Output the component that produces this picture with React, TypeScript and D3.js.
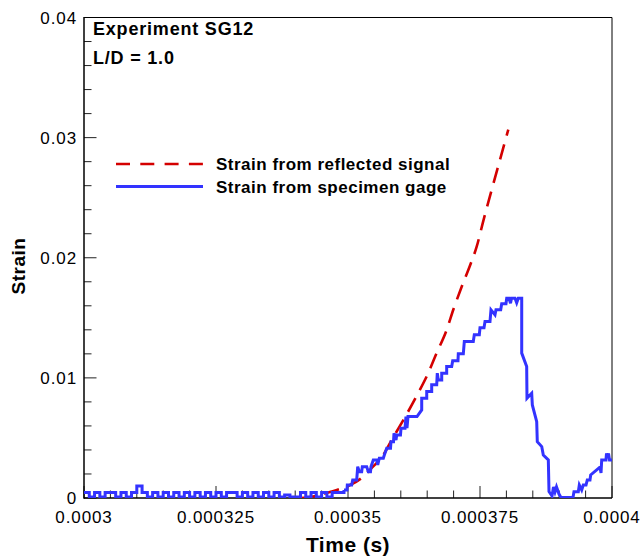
import React from "react";
import * as d3 from "d3";

// ---------- data ----------
const xTickValues = [0.0003, 0.000325, 0.00035, 0.000375, 0.0004];
const xTickLabels = ["0.0003", "0.000325", "0.00035", "0.000375", "0.0004"];
const yTickValues = [0, 0.01, 0.02, 0.03, 0.04];
const yTickLabels = ["0", "0.01", "0.02", "0.03", "0.04"];

const seriesNames = ["Strain from reflected signal", "Strain from specimen gage"];

// reflected-signal strain: [time (µs), strain]
const reflectedPoints: [number, number][] = [
  [340.91, 0], [343.37, 0.000125], [346.59, 0.0005], [348.48, 0.00075],
  [350.38, 0.00108], [352.59, 0.00167], [354.49, 0.0025], [356.69, 0.00358],
  [358.28, 0.00483], [360.17, 0.00625], [363.31, 0.00875], [365.21, 0.01042],
  [366.8, 0.01208], [368.69, 0.014], [369.94, 0.01567], [371.53, 0.01758],
  [373.11, 0.01935], [374.37, 0.02092], [375.63, 0.02307], [377.22, 0.02567],
  [378.79, 0.02817], [380.36, 0.03067],
];

// specimen gage, pre-pulse noise: sampled every 1 µs from 300 µs (strain ×1e-4)
const gageBaselineStartUs = 300;
const gageBaselineLevels = [
  4.5, 0.8, 4.5, 0.8, 4.5, 4.5, 0.8, 4.5, 0.8, 4.5,
  10, 4.5, 0.8, 4.5, 0.8, 4.5, 0.8, 4.5, 0.8, 4.5,
  0.8, 4.5, 0.8, 4.5, 0.8, 4.5, 0.8, 4.5, 4.5, 0.8,
  4.5, 0.8, 4.5, 0.8, 4.5, 0.8, 4.5, 0.8, 2.5, 0.8,
  0.8, 4.5, 0.8, 4.5, 0.8, 4.5, 0.8, 4.5, 4.5,
];

// specimen gage, pulse: [time (µs), strain]
const gagePoints: [number, number][] = [
  [349.24, 0.00067], [349.81, 0.00067], [349.87, 0.00108], [350.7, 0.00108],
  [350.89, 0.0015], [351.65, 0.0015], [351.84, 0.00261], [352.14, 0.00219],
  [352.59, 0.00219], [352.71, 0.00261], [353.54, 0.00261], [353.84, 0.00219],
  [354.26, 0.00219], [354.36, 0.00261], [354.79, 0.00317], [355.49, 0.00317],
  [355.63, 0.00275], [355.93, 0.00331], [356.69, 0.00331], [356.88, 0.00358],
  [357.33, 0.00414], [358.05, 0.00414], [358.14, 0.00469], [358.62, 0.00469],
  [358.71, 0.00539], [359.09, 0.00483], [359.22, 0.00525], [359.94, 0.00525],
  [360.04, 0.00581], [360.8, 0.00581], [360.98, 0.00678], [361.17, 0.00581],
  [361.36, 0.00678], [363.07, 0.00678], [363.96, 0.00733], [363.96, 0.00831],
  [364.91, 0.00831], [364.91, 0.00886], [365.85, 0.00886], [365.85, 0.00942],
  [366.8, 0.00942], [366.91, 0.01039], [367.1, 0.00983], [367.75, 0.00983],
  [367.75, 0.01039], [368.69, 0.01039], [368.69, 0.01094], [369.64, 0.01094],
  [369.83, 0.01142], [370.83, 0.01142], [370.89, 0.012], [371.84, 0.012],
  [372.03, 0.01303], [373.73, 0.01303], [373.92, 0.01358], [374.87, 0.01358],
  [375.0, 0.01417], [375.76, 0.01417], [375.95, 0.01469], [376.89, 0.01469],
  [377.08, 0.01567], [377.84, 0.01525], [378.03, 0.01567], [378.92, 0.01567],
  [379.11, 0.01617], [379.92, 0.01617], [380.06, 0.01663], [380.49, 0.01663],
  [380.78, 0.01621], [380.97, 0.01663], [381.63, 0.01663], [381.95, 0.01625],
  [382.25, 0.01663], [382.9, 0.01663], [382.9, 0.01206], [383.84, 0.01094],
  [383.9, 0.00831], [384.47, 0.00858], [384.79, 0.00872], [384.91, 0.00775],
  [385.74, 0.00636], [385.85, 0.00469], [386.69, 0.00428], [386.99, 0.00358],
  [387.94, 0.00317], [388.07, 0.00053], [388.64, 0.00017], [388.92, 0.00092],
  [389.2, 0.0005], [389.49, 0.00092], [389.96, 0.00033], [390.34, 0.00004],
  [392.61, 0.00004], [392.8, 0.00053], [393.62, 0.00053], [393.81, 0.00108],
  [394.26, 0.00067], [394.56, 0.00108], [395.08, 0.00108], [395.32, 0.0015],
  [395.83, 0.0015], [395.96, 0.00192], [397.73, 0.00258], [397.92, 0.00208],
  [398.05, 0.00317], [398.86, 0.00317], [398.96, 0.00371], [399.15, 0.00333],
  [399.34, 0.00371], [399.53, 0.00317], [400.0, 0.00317],
];

const annotations = ["Experiment SG12", "L/D = 1.0"];

// ---------- layout ----------
const W = 643;
const H = 558;
const left = 84;
const right = 612;
const top = 17.5;
const bottom = 498;

const RED = "#d40000";
const BLUE = "#3333ff";
const FONT = "'Liberation Sans', Arial, Helvetica, sans-serif";

export default function App() {
  const x = d3.scaleLinear().domain([0.0003, 0.0004]).range([left, right]);
  const y = d3.scaleLinear().domain([0, 0.04]).range([bottom, top]);

  const xMinor = d3.range(0, 21).map((i) => 0.0003 + i * 0.000005);
  const yMinor = d3.range(0, 21).map((i) => i * 0.002);

  const lineLin = d3
    .line<[number, number]>()
    .x((d) => x(d[0] * 1e-6))
    .y((d) => y(d[1]));

  const lineSmooth = d3
    .line<[number, number]>()
    .x((d) => x(d[0] * 1e-6))
    .y((d) => y(d[1]))
    .curve(d3.curveMonotoneX);

  const baselineData: [number, number][] = gageBaselineLevels.map((v, i) => [
    gageBaselineStartUs + i,
    v * 1e-4,
  ]);
  baselineData.push([gagePoints[0][0], gagePoints[0][1]]);
  const lineStep = d3
    .line<[number, number]>()
    .x((d) => x(d[0] * 1e-6))
    .y((d) => y(d[1]))
    .curve(d3.curveStepAfter);

  const dash = "15.5 9";

  return (
    <svg
      width={W}
      height={H}
      style={{ position: "absolute", left: 0, top: 0, background: "#fff" }}
      fontFamily={FONT}
    >
      <defs>
        <clipPath id="plotclip">
          <rect x={left} y={top - 2} width={right - left} height={bottom - top + 2} />
        </clipPath>
      </defs>
      <rect x={0} y={0} width={W} height={H} fill="#fff" />

      {/* minor / major ticks */}
      {yMinor.map((v, i) => {
        const major = i % 5 === 0;
        return (
          <line
            key={"ym" + i}
            x1={left}
            x2={left + (major ? 12.5 : 7.5)}
            y1={y(v)}
            y2={y(v)}
            stroke="#222"
            strokeWidth={1}
          />
        );
      })}
      {xMinor.map((v, i) => {
        const major = i % 5 === 0;
        return (
          <line
            key={"xm" + i}
            x1={x(v)}
            x2={x(v)}
            y1={bottom}
            y2={bottom - (major ? 12 : 7.5)}
            stroke="#222"
            strokeWidth={1}
          />
        );
      })}

      {/* frame */}
      <line x1={left} x2={right} y1={top} y2={top} stroke="#000" strokeWidth={1} />
      <line x1={right} x2={right} y1={top} y2={bottom} stroke="#000" strokeWidth={1} />
      <line x1={left} x2={left} y1={top - 0.5} y2={bottom + 0.75} stroke="#000" strokeWidth={1.5} />
      <line x1={left} x2={right} y1={bottom} y2={bottom} stroke="#000" strokeWidth={1.5} />

      {/* tick labels */}
      {yTickValues.map((v, i) => (
        <text
          key={"yl" + i}
          x={77}
          y={y(v) + 6}
          textAnchor="end"
          fontSize={17}
          letterSpacing={0.9}
          fill="#000"
        >
          {yTickLabels[i]}
        </text>
      ))}
      {xTickValues.map((v, i) => (
        <text
          key={"xl" + i}
          x={x(v)}
          y={523}
          textAnchor="middle"
          fontSize={17}
          letterSpacing={0.9}
          fill="#000"
        >
          {xTickLabels[i]}
        </text>
      ))}

      {/* axis titles */}
      <text
        x={(left + right) / 2}
        y={552}
        textAnchor="middle"
        fontSize={21}
        fontWeight="bold"
        letterSpacing={0.5}
      >
        Time (s)
      </text>
      <text
        transform={`translate(25,266) rotate(-90)`}
        textAnchor="middle"
        fontSize={19}
        fontWeight="bold"
        letterSpacing={0.5}
      >
        Strain
      </text>

      {/* annotations */}
      <text x={93} y={35} fontSize={18} fontWeight="bold" letterSpacing={0.8}>
        {annotations[0]}
      </text>
      <text x={93} y={64} fontSize={18} fontWeight="bold" letterSpacing={0.8}>
        {annotations[1]}
      </text>

      {/* legend */}
      <line x1={116} x2={203} y1={164} y2={164} stroke={RED} strokeWidth={2.6} strokeDasharray="14 10.3" />
      <line x1={116} x2={203} y1={186.5} y2={186.5} stroke={BLUE} strokeWidth={2.8} />
      <text x={216} y={170} fontSize={17} fontWeight="bold" letterSpacing={0.5}>
        {seriesNames[0]}
      </text>
      <text x={216} y={192.5} fontSize={17} fontWeight="bold" letterSpacing={0.5}>
        {seriesNames[1]}
      </text>

      {/* series */}
      <g clipPath="url(#plotclip)">
        <path
          d={lineSmooth(reflectedPoints) || ""}
          fill="none"
          stroke={RED}
          strokeWidth={2.6}
          strokeDasharray={dash}
        />
        <path
          d={lineStep(baselineData) || ""}
          fill="none"
          stroke={BLUE}
          strokeWidth={3}
          strokeLinejoin="miter"
        />
        <path
          d={lineLin(gagePoints) || ""}
          fill="none"
          stroke={BLUE}
          strokeWidth={3}
          strokeLinejoin="miter"
        />
      </g>
    </svg>
  );
}
